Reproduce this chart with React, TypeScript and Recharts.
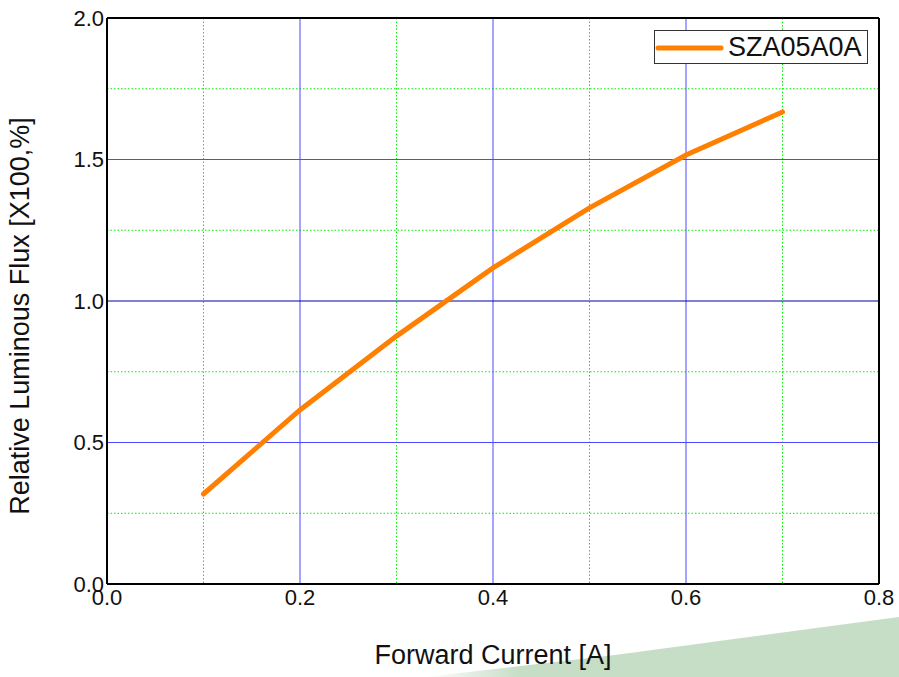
import { LineChart, Line, XAxis, YAxis, CartesianGrid, ReferenceLine } from "recharts"

const currents = [0.1, 0.2, 0.3, 0.4, 0.5, 0.6, 0.7]
const relativeFlux = [0.318, 0.615, 0.876, 1.117, 1.329, 1.516, 1.668]
const xTicks = [0, 0.2, 0.4, 0.6, 0.8]
const yTicks = [0, 0.5, 1.0, 1.5, 2.0]
const xMajor = [0.2, 0.4, 0.6]
const xMinor = [0.1, 0.3, 0.5, 0.7]
const yMajor = [0.5, 1.5]
const yMiddle = [1.0]
const yMinor = [0.25, 0.75, 1.25, 1.75]
const seriesName = "SZA05A0A"

const data = currents.map((c, i) => ({ current: c, flux: relativeFlux[i] }))

const font = "'Liberation Sans', Arial, sans-serif"

const LegendBox = () => (
  <div
    style={{
      position: "absolute",
      left: 654,
      top: 30,
      width: 212,
      height: 32,
      border: "1px solid #333",
      background: "#fff",
      display: "flex",
      alignItems: "center",
      fontFamily: font,
      fontSize: 27,
      color: "#111",
      boxSizing: "content-box",
    }}
  >
    <svg width={73} height={32} style={{ flex: "none" }}>
      <line x1={3} y1={17} x2={66} y2={17} stroke="#ff8000" strokeWidth={5} strokeLinecap="round" />
    </svg>
    <span style={{ lineHeight: "32px" }}>{seriesName}</span>
  </div>
)

const YLabel = (props: any) => {
  const vb = props.viewBox || {}
  const cx = vb.x - 27
  const cy = vb.y + vb.height / 2 + 15
  return (
    <text
      x={cx}
      y={cy}
      transform={`rotate(-90 ${cx} ${cy})`}
      textAnchor="middle"
      dominantBaseline="central"
      style={{ fontSize: 27, fontFamily: font, fill: "#111" }}
    >
      Relative Luminous Flux [X100,%]
    </text>
  )
}

const tickStyle = { fill: "#111", fontSize: 22, fontFamily: font }
const frameLine = { stroke: "#000", strokeWidth: 2 }

export default function App() {
  return (
    <div style={{ position: "absolute", left: 0, top: 0, width: 899, height: 677, background: "#fff" }}>
      <svg width={899} height={677} style={{ position: "absolute", left: 0, top: 0 }}>
        <defs>
          <linearGradient id="fade" x1="0" x2="1" y1="0" y2="0">
            <stop offset="0" stopColor="#c6ddc6" stopOpacity={0} />
            <stop offset="0.2" stopColor="#c6ddc6" stopOpacity={1} />
            <stop offset="1" stopColor="#c6ddc6" stopOpacity={1} />
          </linearGradient>
        </defs>
        <path d="M 425 677 L 615 655 L 899 617 L 899 677 Z" fill="url(#fade)" />
      </svg>
      <div style={{ position: "absolute", left: 0, top: 0 }}>
        <LineChart
          width={899}
          height={677}
          data={data}
          margin={{ top: 18, right: 20, bottom: 63, left: 47 }}
        >
          <CartesianGrid
            horizontalValues={yMinor}
            verticalValues={xMinor}
            stroke="#00ee00"
            strokeDasharray="1.5 2"
          />
          <CartesianGrid horizontalValues={yMajor} verticalValues={xMajor} stroke="#4a4aff" />
          <CartesianGrid horizontalValues={yMiddle} vertical={false} stroke="#0000a8" />
          <ReferenceLine x={0.8} stroke="#000" strokeWidth={2} />
          <ReferenceLine y={2.0} stroke="#000" strokeWidth={2} />
          <XAxis
            dataKey="current"
            type="number"
            domain={[0, 0.8]}
            ticks={xTicks}
            tickFormatter={(v: number) => v.toFixed(1)}
            tickLine={false}
            tickSize={0}
            tickMargin={5}
            axisLine={frameLine}
            tick={tickStyle}
            height={30}
            label={{
              value: "Forward Current [A]",
              position: "bottom",
              offset: 31,
              fill: "#111",
              fontSize: 27,
              fontFamily: font,
            }}
          />
          <YAxis
            type="number"
            domain={[0, 2]}
            ticks={yTicks}
            tickFormatter={(v: number) => v.toFixed(1)}
            tickLine={false}
            tickSize={0}
            tickMargin={3}
            axisLine={frameLine}
            tick={tickStyle}
            width={60}
            label={<YLabel />}
          />
          <Line
            dataKey="flux"
            name={seriesName}
            stroke="#ff8000"
            strokeWidth={5}
            strokeLinecap="round"
            dot={false}
            type="linear"
            isAnimationActive={false}
          />
        </LineChart>
      </div>
      <LegendBox />
    </div>
  )
}
